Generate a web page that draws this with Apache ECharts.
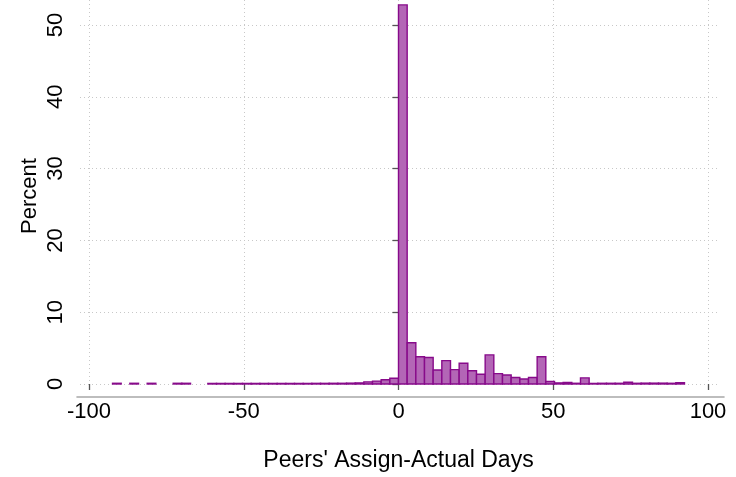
<!DOCTYPE html>
<html>
<head>
<meta charset="utf-8">
<script src="https://cdn.jsdelivr.net/npm/echarts@6/dist/echarts.min.js"></script>
<style>html,body{margin:0;padding:0;background:#fff}#c{width:736px;height:477px}</style>
</head>
<body>
<div id="c"></div>
<script>
// Histogram definition
const binStart = -92.4;
const binWidth = 2.8;
// Percent in each bin (null = empty bin), 66 bins from -92.4 to 92.4
const percent = [
  0.1, null, 0.1, null, 0.1, null, null, 0.1, 0.1, null,
  null, 0.08, 0.08, 0.08, 0.08, 0.08, 0.08, 0.08, 0.08, 0.08,
  0.08, 0.08, 0.08, 0.09, 0.09, 0.1, 0.1, 0.12, 0.15, 0.3,
  0.4, 0.6, 0.8, 52.8, 5.75, 3.8, 3.7, 1.95, 3.25, 2.0,
  2.9, 1.85, 1.35, 4.05, 1.45, 1.25, 0.9, 0.7, 0.9, 3.8,
  0.35, 0.15, 0.2, 0.1, 0.85, 0.08, 0.1, 0.1, 0.1, 0.25,
  0.1, 0.12, 0.12, 0.12, 0.1, 0.18
];
const xTicks = [-100, -50, 0, 50, 100];
const yTicks = [0, 10, 20, 30, 40, 50];
const xTitle = "Peers' Assign-Actual Days";
const yTitle = "Percent";

const histData = [];
percent.forEach((v, i) => {
  if (v !== null) histData.push([binStart + i * binWidth, binStart + (i + 1) * binWidth, v]);
});

const FONT = 'Liberation Sans, Arial, sans-serif';
const chart = echarts.init(document.getElementById('c'), null, {renderer: 'canvas'});
const gridLine = {show: true, lineStyle: {color: '#c8c8c8', type: [1, 3], width: 1}};
const off = {show: false};

chart.setOption({
  backgroundColor: '#fff',
  animation: false,
  grid: [
    {left: 89, right: 28, top: 25, bottom: 93},   // data grid
    {left: 89, right: 28, top: 0, bottom: 85},    // vertical grid lines + y title
    {left: 80, right: 16, top: 25, bottom: 93},   // horizontal grid lines
    {left: 77, right: 12, top: 0, bottom: 80}     // x axis line
  ],
  xAxis: [
    {gridIndex: 0, type: 'value', min: xTicks[0], max: xTicks[xTicks.length - 1], interval: 50, offset: 13,
     axisLine: off, splitLine: off,
     axisTick: {show: true, length: 6, lineStyle: {color: '#555', width: 1.3}},
     axisLabel: {fontSize: 22, fontFamily: FONT, color: '#000', margin: 4},
     name: xTitle, nameLocation: 'middle', nameGap: 52,
     nameTextStyle: {fontSize: 23, fontFamily: FONT, color: '#000'}},
    {gridIndex: 1, type: 'value', min: -100, max: 100, interval: 50,
     axisLine: off, axisTick: off, axisLabel: off, splitLine: gridLine},
    {gridIndex: 2, type: 'value', min: 0, max: 1,
     axisLine: off, axisTick: off, axisLabel: off, splitLine: off},
    {gridIndex: 3, type: 'value', min: 0, max: 1,
     axisLine: {show: true, lineStyle: {color: '#a8a8a8', width: 1.6}},
     axisTick: off, axisLabel: off, splitLine: off}
  ],
  yAxis: [
    {gridIndex: 0, type: 'value', min: yTicks[0], max: yTicks[yTicks.length - 1], interval: 10, offset: 12,
     axisLine: {show: true, lineStyle: {color: '#a8a8a8', width: 1.6}},
     axisTick: {show: true, length: 6, lineStyle: {color: '#555', width: 1.3}},
     axisLabel: {fontSize: 22, fontFamily: FONT, color: '#000', rotate: 90, margin: 10},
     splitLine: off},
    {gridIndex: 1, type: 'value', min: 0, max: 1, offset: 12,
     axisLine: off, axisTick: off, axisLabel: off, splitLine: off,
     name: yTitle, nameLocation: 'middle', nameGap: 36,
     nameTextStyle: {fontSize: 22, fontFamily: FONT, color: '#000'}},
    {gridIndex: 2, type: 'value', min: 0, max: 50, interval: 10,
     axisLine: off, axisTick: off, axisLabel: off, splitLine: gridLine},
    {gridIndex: 3, type: 'value', min: 0, max: 1,
     axisLine: off, axisTick: off, axisLabel: off, splitLine: off}
  ],
  series: [{
    type: 'custom',
    xAxisIndex: 0, yAxisIndex: 0,
    clip: false,
    data: histData,
    renderItem: function (params, api) {
      const p0 = api.coord([api.value(0), api.value(2)]);
      const p1 = api.coord([api.value(1), 0]);
      return {
        type: 'rect',
        shape: {x: p0[0], y: p0[1], width: p1[0] - p0[0], height: p1[1] - p0[1]},
        style: {fill: 'rgb(179,102,182)', stroke: 'rgb(135,10,138)', lineWidth: 1.4}
      };
    }
  }]
});
</script>
</body>
</html>
